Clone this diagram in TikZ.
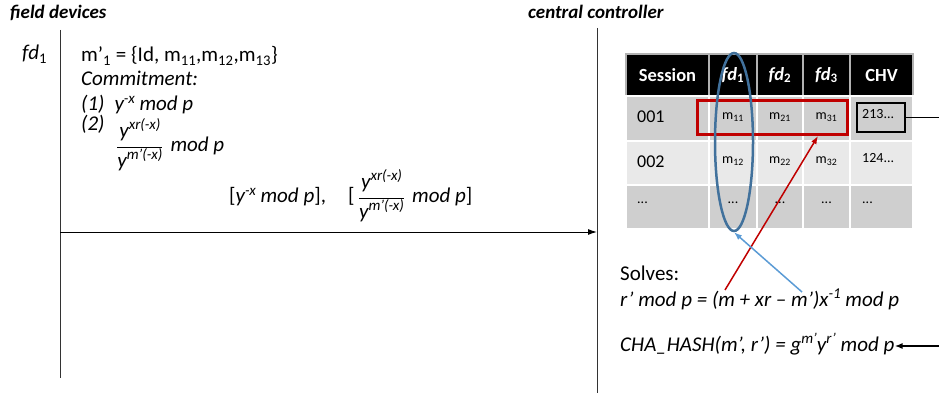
\documentclass[tikz,border=0pt]{standalone}
\usepackage{fontspec}
\setmainfont{Carlito}
\usetikzlibrary{arrows.meta,shapes.geometric}
\definecolor{redc}{HTML}{C00000}
\definecolor{bluec}{HTML}{41719C}
\definecolor{lbluec}{HTML}{5B9BD5}
\definecolor{rowdark}{HTML}{CFCFCF}
\definecolor{rowlight}{HTML}{E9E9E9}
\newcommand\hiup[1]{\raisebox{0.38em}{\fontsize{15}{15}\selectfont #1}}
\newcommand\myfr[2]{$\displaystyle\frac{\mbox{\itshape #1}}{\mbox{\itshape #2}}$}
\begin{document}
\begin{tikzpicture}[x=1pt,y=-1pt,
  txt/.style={inner sep=0pt, anchor=base west, font=\fontsize{21}{24}\selectfont},
  rtxt/.style={inner sep=0pt, anchor=base west, font=\fontsize{21}{24}\selectfont},
  ttl/.style={inner sep=0pt, anchor=base west, font=\fontsize{19}{22}\selectfont\bfseries\itshape},
  hdr/.style={inner sep=0pt, font=\fontsize{18.5}{21}\selectfont\bfseries, text=white},
  cel/.style={inner sep=0pt, font=\fontsize{14}{16}\selectfont},
  celbig/.style={inner sep=0pt, font=\fontsize{18}{20}\selectfont, anchor=west},
  hcell/.style={fill=black, draw=gray!60, line width=1.2pt},
  dcell/.style={fill=rowdark, draw=white, line width=1.5pt},
  lcell/.style={fill=rowlight, draw=white, line width=1.5pt},
  lifeline/.style={line width=1pt, draw=black!80},
  msg/.style={line width=1pt, -{Latex[length=9pt,width=6pt]}},
]
\useasboundingbox (0,0) rectangle (939,398);

% titles
\node[ttl] (tfd) at (10,19) {field devices};
\node[ttl] (tcc) at (528,19) {central controller};

% lifelines
\coordinate (l1top) at (60,30);
\coordinate (l1bot) at (60,378);
\coordinate (l2top) at (597,28);
\coordinate (l2bot) at (597,393);
\draw[lifeline] (l1top) -- (l1bot);
\draw[lifeline] (l2top) -- (l2bot);

% field device text
\node[txt] (fd1) at (22,60) {\textit{fd}\textsubscript{1}};
\node[txt] (mset) at (81,62) {m’\textsubscript{1} = \{Id, m\textsubscript{11},m\textsubscript{12},m\textsubscript{13}\}};
\node[txt] (commit) at (81,86) {\textit{Commitment:}};
\node[txt] (c1) at (81,111) {\textit{(1)\hspace{10pt}y\hiup{-x} mod p}};
\node[txt] (c2) at (81,131) {\textit{(2)}};
\node[txt] (c2f) at (116,152) {\myfr{y\hiup{xr(-x)}}{y\hiup{m’(-x)}}\hspace{7pt}\textit{mod p}};

% message
\coordinate (ms) at (60,232);
\coordinate (me) at (597,232);
\node[txt] (msgtxt) at (229,203) {[\textit{y\hiup{-x} mod p}],\hspace{22pt}[\,\myfr{y\hiup{xr(-x)}}{y\hiup{m’(-x)}}\hspace{7pt}\textit{mod p}]};
\draw[msg] (ms) -- (me);

% table cells
\foreach \xa/\xb in {626/709,709/757,757/803,803/850,850/913}{
  \path[hcell] (\xa,54) rectangle (\xb,96);
  \path[dcell] (\xa,96) rectangle (\xb,141);
  \path[lcell] (\xa,141) rectangle (\xb,185);
  \path[dcell] (\xa,185) rectangle (\xb,229);
}
\node[hdr] (hs) at (667.5,75) {Session};
\node[hdr] (h1) at (733,75) {\textit{fd}\textsubscript{1}};
\node[hdr] (h2) at (780,75) {\textit{fd}\textsubscript{2}};
\node[hdr] (h3) at (826.5,75) {\textit{fd}\textsubscript{3}};
\node[hdr] (hc) at (881.5,75) {CHV};

\node[celbig] (s1) at (637,117) {001};
\node[celbig] (s2) at (637,162) {002};
\node[cel, anchor=west] (s3) at (637,203) {...};
\node[cel] (m11) at (733,117) {m\textsubscript{11}};
\node[cel] (m21) at (780,117) {m\textsubscript{21}};
\node[cel] (m31) at (826.5,117) {m\textsubscript{31}};
\node[cel] (m12) at (733,161) {m\textsubscript{12}};
\node[cel] (m22) at (780,161) {m\textsubscript{22}};
\node[cel] (m32) at (826.5,161) {m\textsubscript{32}};
\node[cel] (d1) at (733,203) {...};
\node[cel] (d2) at (780,203) {...};
\node[cel] (d3) at (826.5,203) {...};
\node[cel, anchor=west] (d4) at (862,203) {...};
\node[cel, anchor=west] (v2) at (862,158) {124...};

\node[draw=black, line width=2.5pt, minimum width=48, minimum height=29, inner sep=0pt] (chvbox) at (881,117.5) {};
\node[cel, anchor=west] (v1) at (862,114) {213...};

% highlights
\node[draw=redc, line width=3pt, minimum width=150, minimum height=34, inner sep=0pt] (redbox) at (772,118) {};
\node[ellipse, draw=bluec, line width=2.5pt, minimum width=38, minimum height=178, inner sep=0pt] (ell) at (734,142) {};

% controller text
\node[rtxt] (solves) at (620,280) {Solves:};
\node[rtxt] (rform) at (620,306) {\textit{r’ mod p = (m + xr – m’)x\hiup{-1} mod p}};
\node[rtxt] (chash) at (620,351) {\textit{CHA\_HASH(m’, r’) = g\hiup{m’}y\hiup{r’} mod p}};

% connectors
\coordinate (rstart) at (725,290);
\coordinate (rtip) at (818,136);
\coordinate (bstart) at (802,292);
\draw[redc, line width=1.5pt, -{Latex[length=8pt,width=6pt]}] (rstart) -- (rtip);
\draw[lbluec, line width=1.5pt, -{Latex[length=8pt,width=6pt]}] (bstart) -- (ell.south);
\coordinate (chvout) at (939,117.5);
\coordinate (hashin) at (939,346);
\draw[line width=1.5pt] (chvbox.east) -- (chvout);
\draw[line width=1.5pt, -{Latex[length=8pt,width=6pt]}] (hashin) -- (chash.east |- hashin);
\end{tikzpicture}
\end{document}
